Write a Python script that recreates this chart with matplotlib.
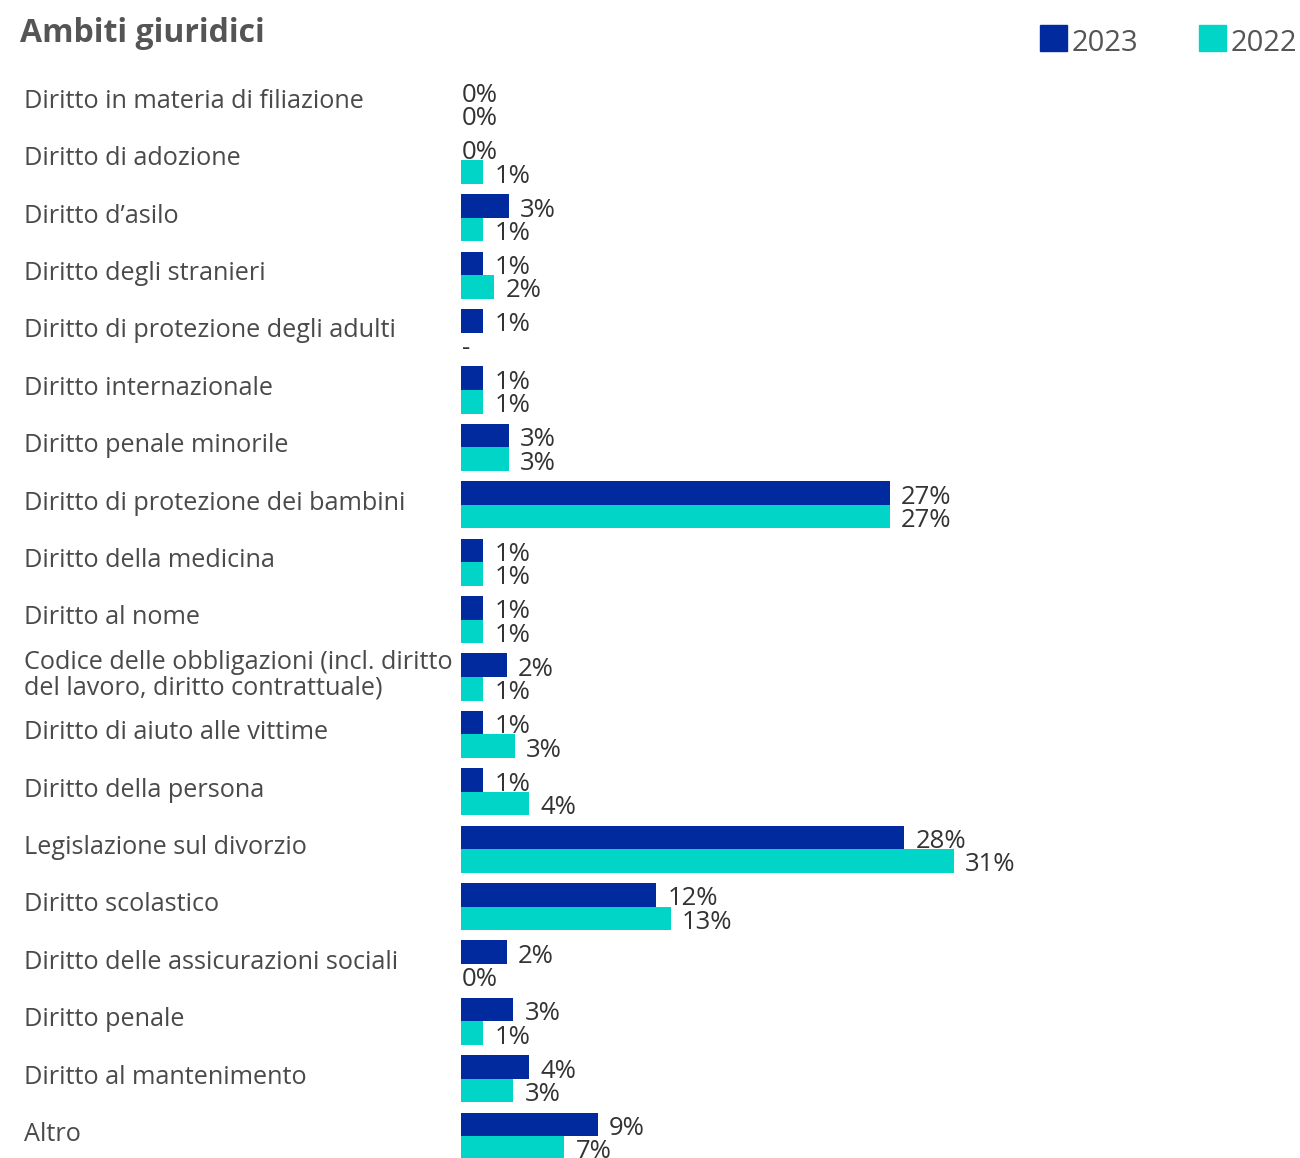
import numpy as np
import matplotlib.pyplot as plt
from matplotlib.patches import Rectangle
from matplotlib.transforms import blended_transform_factory

# Categories (top to bottom) and shares in percent
categories = [
    "Diritto in materia di filiazione",
    "Diritto di adozione",
    "Diritto d\u2019asilo",
    "Diritto degli stranieri",
    "Diritto di protezione degli adulti",
    "Diritto internazionale",
    "Diritto penale minorile",
    "Diritto di protezione dei bambini",
    "Diritto della medicina",
    "Diritto al nome",
    "Codice delle obbligazioni (incl. diritto\ndel lavoro, diritto contrattuale)",
    "Diritto di aiuto alle vittime",
    "Diritto della persona",
    "Legislazione sul divorzio",
    "Diritto scolastico",
    "Diritto delle assicurazioni sociali",
    "Diritto penale",
    "Diritto al mantenimento",
    "Altro",
]
values_2023 = [0, 0, 3.0, 1.4, 1.4, 1.4, 3.0, 27.0, 1.4, 1.4, 2.9, 1.4, 1.4,
               27.9, 12.3, 2.9, 3.3, 4.3, 8.6]
values_2022 = [0, 1.4, 1.4, 2.1, np.nan, 1.4, 3.0, 27.0, 1.4, 1.4, 1.4, 3.4, 4.3,
               31.0, 13.2, 0, 1.4, 3.3, 6.5]
labels_2023 = ["0%", "0%", "3%", "1%", "1%", "1%", "3%", "27%", "1%", "1%", "2%",
               "1%", "1%", "28%", "12%", "2%", "3%", "4%", "9%"]
labels_2022 = ["0%", "1%", "1%", "2%", "-", "1%", "3%", "27%", "1%", "1%", "1%",
               "3%", "4%", "31%", "13%", "0%", "1%", "3%", "7%"]

color_2023 = "#002a9e"
color_2022 = "#00d5c8"

plt.rcParams['font.family'] = ['Open Sans', 'DejaVu Sans']

W, H = 1300, 1158
fig = plt.figure(figsize=(W / 100, H / 100), dpi=100)

# axes: x=0 at pixel 461, ~15.89 px per percent; rows every ~57.4 px
ax = fig.add_axes([461 / W, 0, 794.5 / W, (H - 62.8) / H])
ax.set_xlim(0, 50)
ax.set_ylim(18.38, -0.7)
ax.axis("off")

y = np.arange(len(categories))
bh = 0.41
v23 = np.nan_to_num(np.array(values_2023, dtype=float))
v22 = np.nan_to_num(np.array(values_2022, dtype=float))
ax.barh(y - bh / 2, v23, height=bh, color=color_2023)
ax.barh(y + bh / 2, v22, height=bh, color=color_2022)

# value labels
for yy, v, lab in zip(y - bh / 2, v23, labels_2023):
    x = v + 0.7 if v > 0 else 0.05
    ax.text(x, yy + 0.07, lab, va="center", ha="left", fontsize=18.5, color="#333333")
for yy, v, lab in zip(y + bh / 2, v22, labels_2022):
    x = v + 0.7 if v > 0 else 0.05
    ax.text(x, yy + 0.07, lab, va="center", ha="left", fontsize=18.5, color="#333333")

# category labels, left aligned at the figure edge
trans = blended_transform_factory(fig.transFigure, ax.transData)
for yy, cat in zip(y, categories):
    ax.text(24 / W, yy - 0.03, cat, transform=trans, va="center", ha="left",
            fontsize=18.2, color="#4a4a4a", linespacing=1.05)

# title
fig.text(20 / W, 1 - 42 / H, "Ambiti giuridici", fontsize=23, fontweight="bold",
         color="#555555", va="baseline", ha="left")

# legend
for x0, col, txt in [(1040, color_2023, "2023"), (1199, color_2022, "2022")]:
    fig.patches.append(Rectangle((x0 / W, 1 - 51 / H), 27 / W, 26 / H,
                                 transform=fig.transFigure, color=col))
    fig.text((x0 + 32) / W, 1 - 51 / H, txt, fontsize=21, color="#555555",
             va="baseline", ha="left")

fig.savefig("out.png", dpi=100)
